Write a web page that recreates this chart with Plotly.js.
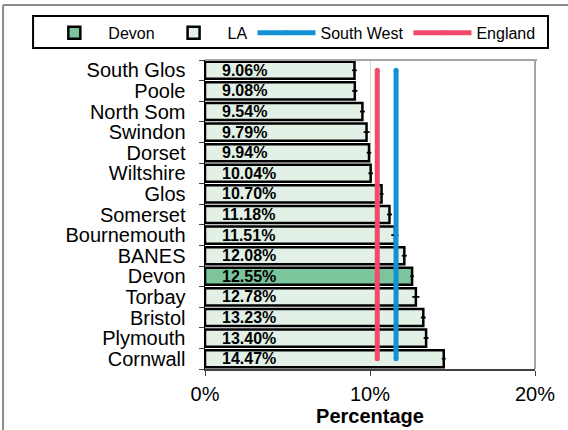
<!DOCTYPE html>
<html>
<head>
<meta charset="utf-8">
<script src="https://cdn.plot.ly/plotly-3.0.1.min.js"></script>
<style>html,body{margin:0;padding:0;background:#fff;}#chart{width:568px;height:430px;}</style>
</head>
<body>
<div id="chart"></div>
<script>
// Data
const areas = ["South Glos","Poole","North Som","Swindon","Dorset","Wiltshire","Glos","Somerset","Bournemouth","BANES","Devon","Torbay","Bristol","Plymouth","Cornwall"];
const percentages = [9.06, 9.08, 9.54, 9.79, 9.94, 10.04, 10.70, 11.18, 11.51, 12.08, 12.55, 12.78, 13.23, 13.40, 14.47];
const errors = [0.14, 0.16, 0.15, 0.18, 0.14, 0.14, 0.12, 0.15, 0.22, 0.15, 0.11, 0.22, 0.15, 0.15, 0.12];
const highlight = "Devon";
const southWest = 11.58;
const england = 10.44;
const xTicks = [0, 10, 20];

const FONT = "Liberation Sans, Arial, sans-serif";
const COL_LA = "#e2f0e6";
const COL_DEVON = "#7cc49c";
const COL_SW = "#1292d4";
const COL_ENG = "#f24a6a";

const laAreas = [], laVals = [], laErr = [];
const dvAreas = [], dvVals = [], dvErr = [];
areas.forEach((a, i) => {
  if (a === highlight) { dvAreas.push(a); dvVals.push(percentages[i]); dvErr.push(errors[i]); }
  else { laAreas.push(a); laVals.push(percentages[i]); laErr.push(errors[i]); }
});

const errStyle = (arr) => ({type: "data", array: arr, visible: true, color: "#000", thickness: 1.8, width: 0});

const traces = [
  {type: "bar", orientation: "h", name: "Devon", x: dvVals, y: dvAreas,
   marker: {color: COL_DEVON, line: {color: "#000", width: 2.5}},
   error_x: errStyle(dvErr), hoverinfo: "skip"},
  {type: "bar", orientation: "h", name: "LA", x: laVals, y: laAreas,
   marker: {color: COL_LA, line: {color: "#000", width: 2.5}},
   error_x: errStyle(laErr), hoverinfo: "skip"},
  {type: "scatter", mode: "lines+markers", name: "South West",
   x: [southWest, southWest], y: [areas[0], areas[areas.length - 1]],
   line: {color: COL_SW, width: 5}, marker: {color: COL_SW, size: 5}},
  {type: "scatter", mode: "lines+markers", name: "England",
   x: [england, england], y: [areas[0], areas[areas.length - 1]],
   line: {color: COL_ENG, width: 5}, marker: {color: COL_ENG, size: 5}}
];

const annotations = areas.map((a, i) => ({
  x: 0.9, y: a, xref: "x", yref: "y", xanchor: "left", yanchor: "middle",
  text: percentages[i].toFixed(2) + "%", showarrow: false,
  font: {family: FONT, size: 16, color: "#000", weight: "bold"}
}));

const shapes = [
  // outer frame (left and top visible)
  {type: "line", xref: "paper", yref: "paper", x0: -0.612, x1: -0.612, y0: 1.178, y1: -0.25, line: {color: "#8c8c8c", width: 2}},
  {type: "line", xref: "paper", yref: "paper", x0: -0.612, x1: 1.2, y0: 1.178, y1: 1.178, line: {color: "#8c8c8c", width: 2}},
  // plot top/right gray frame
  {type: "line", xref: "paper", yref: "paper", x0: 0, x1: 1.006, y0: 1, y1: 1, line: {color: "#a6a6a6", width: 2}},
  {type: "line", xref: "paper", yref: "paper", x0: 1, x1: 1, y0: 0, y1: 1, line: {color: "#a6a6a6", width: 2}},
  // legend box
  {type: "rect", xref: "paper", yref: "paper", x0: -0.521, x1: 1.0394, y0: 1.1424, y1: 1.0388, line: {color: "#000", width: 2}, fillcolor: "rgba(0,0,0,0)"}
];

const layout = {
  width: 568, height: 430,
  margin: {l: 205, r: 33, t: 60, b: 61, pad: 0},
  paper_bgcolor: "#fff", plot_bgcolor: "#fff",
  font: {family: FONT, color: "#000"},
  barmode: "overlay", bargap: 0.17,
  showlegend: true,
  legend: {orientation: "h", x: -0.499, xanchor: "left", y: 1.143, yanchor: "top",
    itemwidth: 58, font: {family: FONT, size: 16, color: "#000"},
    bgcolor: "rgba(0,0,0,0)", borderwidth: 0, traceorder: "normal", tracegroupgap: 0},
  xaxis: {range: [0, 20], tickvals: xTicks, ticktext: xTicks.map(v => v + "%"),
    showgrid: true, gridcolor: "#d9d9d9", gridwidth: 1, zeroline: false,
    showline: true, linecolor: "#404040", linewidth: 1.5,
    ticks: "outside", ticklen: 5, tickcolor: "#404040", tickwidth: 1,
    tickfont: {family: FONT, size: 20, color: "#000"}, ticklabelstandoff: 1,
    title: {text: "Percentage", font: {family: FONT, size: 20, color: "#000", weight: "bold"}, standoff: 5},
    fixedrange: true},
  yaxis: {type: "category", categoryorder: "array", categoryarray: areas,
    range: [areas.length - 0.5, -0.5], autorange: false,
    tickmode: "array", tickvals: areas, ticktext: areas,
    showline: true, linecolor: "#000", linewidth: 1.5, showgrid: false, zeroline: false,
    ticks: "outside", tickson: "boundaries", ticklen: 5, tickcolor: "#404040", tickwidth: 1,
    tickfont: {family: FONT, size: 20, color: "#000"}, ticklabelstandoff: 14,
    fixedrange: true},
  annotations: annotations,
  shapes: shapes
};

Plotly.newPlot("chart", traces, layout, {displayModeBar: false, staticPlot: true});
</script>
</body>
</html>
